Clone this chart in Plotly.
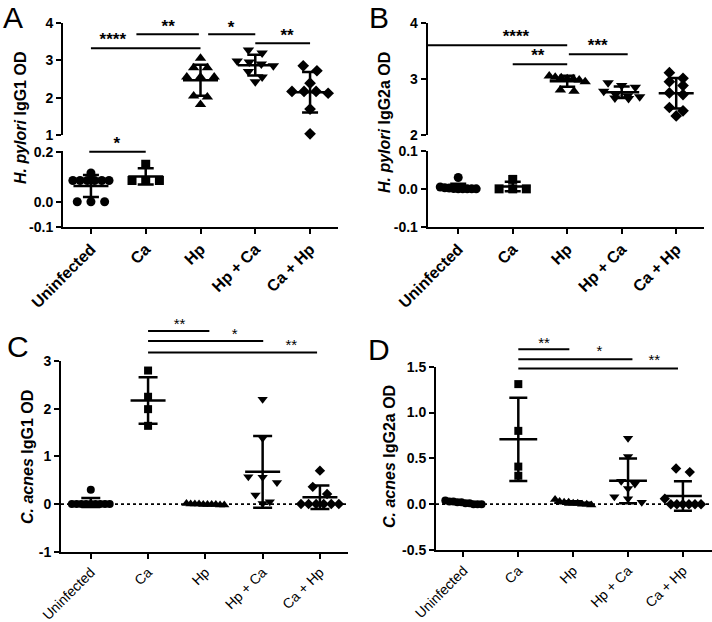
import numpy as np
import plotly.graph_objects as go

groups = ["Uninfected", "Ca", "Hp", "Hp + Ca", "Ca + Hp"]
symbols = ["circle", "square", "triangle-up", "triangle-down", "diamond"]

# A: H. pylori IgG1 OD
a_uninf = [0.115, 0.085, 0.085, 0.085, 0.085, 0.085, 0.085, 0.0, 0.0, 0.0]
a_ca = [0.15, 0.085, 0.085, 0.085]
a_hp = [3.05, 2.80, 2.80, 2.55, 2.55, 2.55, 2.05, 2.02, 1.82]
a_hpca = [3.27, 3.19, 2.98, 2.95, 2.90, 2.85, 2.70, 2.55, 2.43]
a_cahp = [2.85, 2.72, 2.39, 2.17, 2.17, 2.17, 2.12, 1.70, 1.04]

# B: H. pylori IgG2a OD
b_uninf = [0.03, 0.005, 0.003, 0.002, 0.001, 0.0, 0.0, 0.0, 0.0, 0.0]
b_ca = [0.025, 0.0, 0.0, 0.0]
b_hp = [3.05, 3.03, 3.02, 3.00, 3.00, 2.98, 2.95, 2.80, 2.78]
b_hpca = [2.93, 2.88, 2.85, 2.78, 2.72, 2.70, 2.68, 2.66, 2.65]
b_cahp = [3.11, 3.01, 2.95, 2.88, 2.75, 2.72, 2.49, 2.43, 2.34]

# C: C. acnes IgG1 OD
c_uninf = [0.30, 0.0, 0.0, 0.0, 0.0, 0.0, 0.0, 0.0, 0.0, 0.0]
c_ca = [2.80, 2.25, 1.99, 1.64]
c_hp = [0.01, 0.0, -0.01, -0.02, -0.01, 0.0, -0.02, -0.01, 0.0, -0.01]
c_hpca = [2.20, 1.38, 0.57, 0.56, 0.45, 0.19, 0.05, 0.01]
c_cahp = [0.70, 0.36, 0.21, 0.0, 0.0, 0.0, 0.0, 0.0, 0.0]

# D: C. acnes IgG2a OD
d_uninf = [0.04, 0.03, 0.03, 0.02, 0.02, 0.01, 0.01, 0.0, 0.0, 0.0]
d_ca = [1.31, 0.80, 0.41, 0.31]
d_hp = [0.05, 0.03, 0.02, 0.02, 0.01, 0.01, 0.0, 0.0, -0.01]
d_hpca = [0.72, 0.52, 0.25, 0.22, 0.17, 0.08, 0.06, 0.02]
d_cahp = [0.39, 0.35, 0.06, 0.0, 0.0, 0.0, 0.0, 0.0, 0.0]

# significance brackets: (x start, x end, level, label, label x, label y)
a_sig_top = [(0, 2, 3.32, "****", 0.40, 3.52), (0.83, 1.97, 3.69, "**", 1.41, 3.86),
             (2.14, 3.0, 3.69, "*", 2.56, 3.84), (3.0, 4.0, 3.45, "**", 3.58, 3.62)]
a_sig_low = [(-0.03, 1.0, 0.2, "*", 0.47, 0.23)]
b_sig = [(-0.56, 2.0, 3.60, "****", 1.06, 3.74), (1.0, 2.0, 3.26, "**", 1.46, 3.40),
         (2.03, 3.11, 3.44, "***", 2.56, 3.58)]
c_sig = [(1.0, 2.07, 3.63, "**", 1.55, 3.74), (1.0, 3.01, 3.42, "*", 2.51, 3.53),
         (1.0, 3.95, 3.18, "**", 3.50, 3.30)]
d_sig = [(1.0, 1.93, 1.69, "**", 1.47, 1.75), (1.0, 3.08, 1.58, "*", 2.48, 1.655),
         (1.0, 3.91, 1.48, "**", 3.48, 1.555)]


def spread(vals, tol, step=0.25, max_half=0.33):
    # side-by-side placement of points with similar values
    order = sorted(range(len(vals)), key=lambda k: -vals[k])
    rows = []
    for k in order:
        if rows and rows[-1][0] - vals[k] <= tol:
            rows[-1][1].append(k)
        else:
            rows.append([vals[k], [k]])
    offs = [0.0] * len(vals)
    for _, idx in rows:
        n = len(idx)
        s = step if n < 2 else min(step, 2 * max_half / (n - 1))
        for j, k in enumerate(idx):
            offs[k] = (j - (n - 1) / 2) * s
    return offs


fig = go.Figure()
font = "Liberation Sans, Arial, sans-serif"


def add_groups(data, pick, msize, mean_size, cap):
    for gi, vals in enumerate(data):
        m = float(np.mean(vals))
        sd = float(np.std(vals, ddof=1))
        xa, ya, tol = pick(m)
        offs = spread(vals, tol)
        fig.add_trace(go.Scatter(
            x=[gi + o for o in offs], y=vals, mode="markers", xaxis=xa, yaxis=ya,
            marker=dict(symbol=symbols[gi], size=msize + (1 if "triangle" in symbols[gi] else 0),
                        color="black"),
            cliponaxis=False, showlegend=False, hoverinfo="y"))
        fig.add_trace(go.Scatter(
            x=[gi], y=[m], mode="markers", xaxis=xa, yaxis=ya,
            marker=dict(symbol="line-ew", size=mean_size, color="black",
                        line=dict(width=2.5, color="black")),
            error_y=dict(type="data", array=[sd], width=cap, thickness=2.5, color="black"),
            cliponaxis=False, showlegend=False, hoverinfo="y"))


def add_sig(sig, xa, ya, fsize, weight):
    for x0, x1, lev, lab, tx, ty in sig:
        fig.add_trace(go.Scatter(x=[x0, x1], y=[lev, lev], mode="lines", xaxis=xa, yaxis=ya,
                                 line=dict(color="black", width=2), showlegend=False,
                                 hoverinfo="skip"))
        fig.add_trace(go.Scatter(x=[tx], y=[ty], mode="text", text=[lab], xaxis=xa, yaxis=ya,
                                 textposition="middle center", cliponaxis=False,
                                 textfont=dict(family=font, size=fsize, color="black",
                                               weight=weight),
                                 showlegend=False, hoverinfo="skip"))


def add_zero(xa, ya, xr):
    fig.add_trace(go.Scatter(x=xr, y=[0, 0], mode="lines", xaxis=xa, yaxis=ya,
                             line=dict(color="black", width=1.8, dash="dot"),
                             showlegend=False, hoverinfo="skip"))


add_zero("x5", "y5", [-0.52, 4.49])
add_zero("x7", "y7", [-0.5, 4.53])

add_groups([a_uninf, a_ca, a_hp, a_hpca, a_cahp],
           lambda m: ("x2", "y2", 0.19) if m > 1 else ("x", "y", 0.028), 9, 25, 8)
add_groups([b_uninf, b_ca, b_hp, b_hpca, b_cahp],
           lambda m: ("x4", "y4", 0.11) if m > 1 else ("x3", "y3", 0.019), 9, 25, 8)
add_groups([c_uninf, c_ca, c_hp, c_hpca, c_cahp],
           lambda m: ("x5", "y5", 0.15), 8, 25, 9.5)
add_groups([d_uninf, d_ca, d_hp, d_hpca, d_cahp],
           lambda m: ("x7", "y7", 0.076), 8, 27, 9)

add_sig(a_sig_top, "x2", "y2", 17, "bold")
add_sig(a_sig_low, "x9", "y9", 17, "bold")
add_sig(b_sig, "x4", "y4", 17, "bold")
add_sig(c_sig, "x6", "y6", 15, "normal")
add_sig(d_sig, "x8", "y8", 15, "normal")

H = 622.0
W = 712.0


def ydom(top_px, bot_px):
    return [1 - bot_px / H, 1 - top_px / H]


def xdom(l_px, r_px):
    return [l_px / W, r_px / W]


line_style = dict(showline=True, linecolor="black", linewidth=2, ticks="outside",
                  ticklen=5, tickwidth=2, tickcolor="black", showgrid=False,
                  zeroline=False, automargin=False)
ytick_font = dict(family=font, size=14, color="black", weight="bold")


def xaxis(dom, rng, anchor, visible=True, bold=True, fsize=16):
    d = dict(domain=dom, range=rng, anchor=anchor, fixedrange=True, automargin=False)
    if visible:
        d.update(line_style)
        d.update(tickvals=list(range(len(groups))), ticktext=groups, tickangle=-45,
                 tickfont=dict(family=font, size=fsize, color="black",
                               weight="bold" if bold else "normal"))
    else:
        d.update(visible=False)
    return d


def yaxis(dom, rng, anchor, tickvals=None, ticktext=None, visible=True):
    d = dict(domain=dom, range=rng, anchor=anchor, fixedrange=True, automargin=False)
    if visible:
        d.update(line_style)
        d.update(tickvals=tickvals, ticktext=ticktext, tickfont=ytick_font)
    else:
        d.update(visible=False)
    return d


fig.update_layout(
    template="none",
    width=712, height=622, margin=dict(l=0, r=0, t=0, b=0, pad=0),
    paper_bgcolor="white", plot_bgcolor="rgba(0,0,0,0)", showlegend=False,
    font=dict(family=font, color="black"),
    # A
    xaxis=xaxis(xdom(63, 338), [-0.51, 4.51], "y"),
    yaxis=yaxis(ydom(151, 226.7), [-0.1, 0.203], "x", [-0.1, 0.0, 0.2], ["-0.1", "0.0", "0.2"]),
    xaxis2=xaxis(xdom(63, 338), [-0.51, 4.51], "y2", visible=False),
    yaxis2=yaxis(ydom(22.7, 135.3), [1, 4], "x2", [1, 2, 3, 4], ["1", "2", "3", "4"]),
    xaxis9=xaxis(xdom(63, 338), [-0.51, 4.51], "y9", visible=False),
    yaxis9=yaxis(ydom(130, 165), [0.2 - 13.3 / 248, 0.2 + 21.7 / 248], "x9", visible=False),
    # B
    xaxis3=xaxis(xdom(427.7, 704), [-0.56, 4.51], "y3"),
    yaxis3=yaxis(ydom(151, 226.7), [-0.1, 0.1], "x3", [-0.1, 0.0, 0.1], ["-0.1", "0.0", "0.1"]),
    xaxis4=xaxis(xdom(427.7, 704), [-0.56, 4.51], "y4", visible=False),
    yaxis4=yaxis(ydom(22.7, 135), [2, 4], "x4", [2, 3, 4], ["2", "3", "4"]),
    # C
    xaxis5=xaxis(xdom(61, 348), [-0.52, 4.49], "y5", bold=False, fsize=14),
    yaxis5=yaxis(ydom(361, 551.7), [-1, 3], "x5", [-1, 0, 1, 2, 3], ["-1", "0", "1", "2", "3"]),
    xaxis6=xaxis(xdom(61, 348), [-0.52, 4.49], "y6", visible=False),
    yaxis6=yaxis(ydom(318, 372), [2.77, 3.90], "x6", visible=False),
    # D
    xaxis7=xaxis(xdom(436, 712), [-0.5, 4.53], "y7", bold=False, fsize=14),
    yaxis7=yaxis(ydom(366.7, 550), [-0.5, 1.5], "x7", [-0.5, 0, 0.5, 1.0, 1.5],
                 ["-0.5", "0.0", "0.5", "1.0", "1.5"]),
    xaxis8=xaxis(xdom(436, 712), [-0.5, 4.53], "y8", visible=False),
    yaxis8=yaxis(ydom(330, 378), [1.377, 1.90], "x8", visible=False),
)

# y-axis titles
titles = [("<i>H. pylori</i> IgG1 OD", 20, 118), ("<i>H. pylori</i> IgG2a OD", 384, 123),
          ("<i>C. acnes</i> IgG1 OD", 27, 457), ("<i>C. acnes</i> IgG2a OD", 389, 457)]
for txt, px, py in titles:
    fig.add_annotation(x=px / W, y=1 - py / H, xref="paper", yref="paper", text=txt,
                       textangle=-90, showarrow=False, xanchor="center", yanchor="middle",
                       font=dict(family=font, size=16, color="black", weight="bold"))

# panel letters (top of text box given in px)
for lab, px, py in [("A", 13, 0), ("B", 379, 0), ("C", 18, 329), ("D", 379, 332)]:
    fig.add_annotation(x=px / W, y=1 - py / H, xref="paper", yref="paper", text=lab,
                       showarrow=False, xanchor="center", yanchor="top", borderpad=0,
                       font=dict(family=font, size=30, color="black"))

fig.write_html("out.html", config={"displayModeBar": False},
               post_script="document.body.style.margin='0px';")
